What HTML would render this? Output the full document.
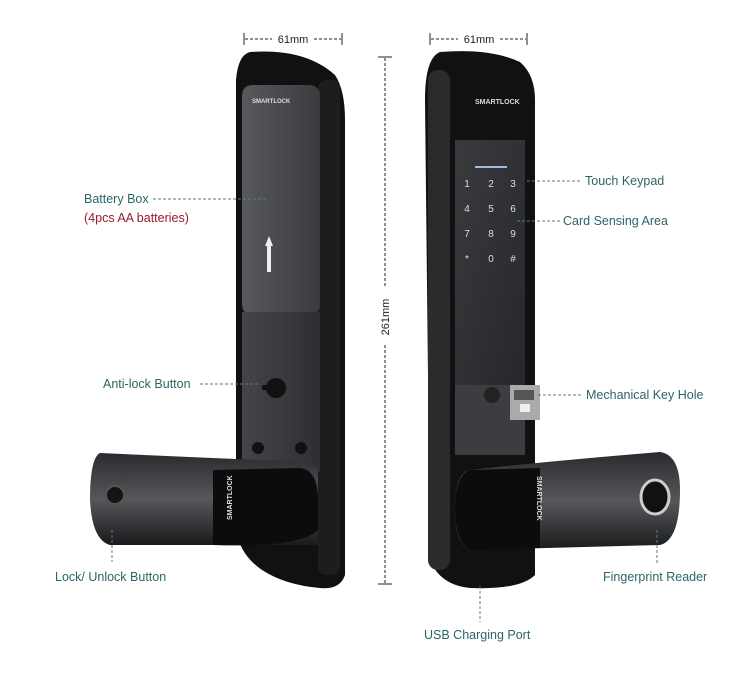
<!DOCTYPE html>
<html><head><meta charset="utf-8"><style>
html,body{margin:0;padding:0;background:#fff;}
svg{display:block}
text{font-family:"Liberation Sans",sans-serif;}
</style></head><body>
<svg width="754" height="698" viewBox="0 0 754 698" xmlns="http://www.w3.org/2000/svg">
<defs>
<linearGradient id="g1" x1="0" x2="1"><stop offset="0" stop-color="#58595c"/><stop offset="1" stop-color="#3a3b3e"/></linearGradient>
<linearGradient id="g2" x1="0" x2="1" y1="0" y2="1"><stop offset="0" stop-color="#3a3b3e"/><stop offset="1" stop-color="#26272a"/></linearGradient>
<linearGradient id="g3" x1="0" x2="1"><stop offset="0" stop-color="#444548"/><stop offset="1" stop-color="#2e2f32"/></linearGradient>
<linearGradient id="h1" x1="0" y1="0" x2="0" y2="1"><stop offset="0" stop-color="#2a2b2e"/><stop offset=".5" stop-color="#55575a"/><stop offset="1" stop-color="#1a1a1c"/></linearGradient>
</defs>
<g stroke="#222" stroke-width="1" fill="none">
<line x1="244" y1="33" x2="244" y2="45"/><line x1="342" y1="33" x2="342" y2="45"/>
<line x1="245" y1="39" x2="272" y2="39" stroke-dasharray="3,2"/><line x1="314" y1="39" x2="341" y2="39" stroke-dasharray="3,2"/>
<line x1="430" y1="33" x2="430" y2="45"/><line x1="527" y1="33" x2="527" y2="45"/>
<line x1="431" y1="39" x2="458" y2="39" stroke-dasharray="3,2"/><line x1="500" y1="39" x2="526" y2="39" stroke-dasharray="3,2"/>
<line x1="378" y1="57" x2="392" y2="57"/><line x1="378" y1="584" x2="392" y2="584"/>
<line x1="385" y1="58" x2="385" y2="288" stroke-dasharray="3,2"/><line x1="385" y1="345" x2="385" y2="583" stroke-dasharray="3,2"/>
</g>
<text x="293" y="43" font-size="11" text-anchor="middle" fill="#222">61mm</text>
<text x="479" y="43" font-size="11" text-anchor="middle" fill="#222">61mm</text>
<text x="389" y="317" font-size="11" text-anchor="middle" fill="#222" transform="rotate(-90 389 317)">261mm</text>

<path d="M250 52 Q305 48 335 75 Q345 90 345 120 L345 575 Q340 590 320 588 Q285 585 262 570 Q240 555 236 530 L236 80 Q238 55 250 52Z" fill="#111"/>
<rect x="318" y="80" width="22" height="495" rx="8" fill="#1c1d1f"/>
<rect x="242" y="85" width="78" height="230" rx="10" fill="url(#g1)"/>
<rect x="242" y="312" width="78" height="160" fill="url(#g3)"/>
<text x="252" y="103" font-size="6" fill="#ddd" font-weight="bold">SMARTLOCK</text>
<path d="M269 236 L273 246 L271 246 L271 272 L267 272 L267 246 L265 246Z" fill="#eee"/>
<circle cx="276" cy="388" r="10" fill="#111"/><rect x="262" y="385" width="24" height="5" fill="#111"/>
<circle cx="258" cy="448" r="6" fill="#111"/><circle cx="301" cy="448" r="6" fill="#111"/>
<path d="M100 453 Q210 458 310 462 L318 470 L318 545 Q210 545 110 545 Q92 540 90 500 Q90 458 100 453Z" fill="url(#h1)"/>
<path d="M213 470 L300 468 Q318 470 318 500 L318 530 Q300 548 213 545Z" fill="#0c0c0d"/>
<circle cx="115" cy="495" r="9" fill="#141414" stroke="#555" stroke-width="2"/>
<text x="232" y="520" font-size="7" fill="#ddd" font-weight="bold" transform="rotate(-90 232 520)">SMARTLOCK</text>

<path d="M440 52 Q490 48 520 62 Q535 75 535 100 L535 575 Q520 590 470 588 Q440 585 430 560 L425 100 Q425 58 440 52Z" fill="#111"/>
<rect x="428" y="70" width="22" height="500" rx="10" fill="#2a2b2d"/>
<rect x="455" y="140" width="70" height="250" fill="url(#g2)"/>
<text x="475" y="104" font-size="7" fill="#ddd" font-weight="bold">SMARTLOCK</text>
<rect x="475" y="166" width="32" height="2" fill="#9be"/>
<g fill="#ddd" font-size="10" text-anchor="middle">
<text x="467" y="187">1</text><text x="491" y="187">2</text><text x="513" y="187">3</text>
<text x="467" y="212">4</text><text x="491" y="212">5</text><text x="513" y="212">6</text>
<text x="467" y="237">7</text><text x="491" y="237">8</text><text x="513" y="237">9</text>
<text x="467" y="262">*</text><text x="491" y="262">0</text><text x="513" y="262">#</text></g>
<rect x="455" y="385" width="70" height="70" fill="#3c3d40"/>
<rect x="510" y="385" width="30" height="35" fill="#aaa"/><rect x="514" y="390" width="20" height="10" fill="#555"/><rect x="520" y="404" width="10" height="8" fill="#eee"/>
<circle cx="492" cy="395" r="8" fill="#222"/>
<path d="M470 470 Q540 462 660 452 Q680 455 680 490 Q680 540 660 545 L470 550 Q455 545 455 510 Q455 472 470 470Z" fill="url(#h1)"/>
<path d="M470 470 L540 468 L540 548 L470 550 Q455 540 455 510 Q455 475 470 470Z" fill="#0c0c0d"/>
<ellipse cx="655" cy="497" rx="14" ry="17" fill="#111" stroke="#ccc" stroke-width="3"/>
<text x="537" y="476" font-size="7" fill="#ddd" font-weight="bold" transform="rotate(90 537 476)">SMARTLOCK</text>

<g stroke="#5a7a88" stroke-width="1" stroke-dasharray="3,2" fill="none">
<line x1="153" y1="199" x2="268" y2="199"/>
<line x1="200" y1="384" x2="258" y2="384"/>
<line x1="112" y1="530" x2="112" y2="562"/>
<line x1="527" y1="181" x2="582" y2="181"/>
<line x1="517" y1="221" x2="560" y2="221"/>
<line x1="538" y1="395" x2="582" y2="395"/>
<line x1="657" y1="530" x2="657" y2="565"/>
<line x1="480" y1="586" x2="480" y2="622"/>
</g>
<g font-size="12.5" fill="#2c6565">
<text x="84" y="203">Battery Box</text>
<text x="84" y="222" fill="#9b1b30">(4pcs AA batteries)</text>
<text x="103" y="388">Anti-lock Button</text>
<text x="55" y="581">Lock/ Unlock Button</text>
<text x="585" y="185">Touch Keypad</text>
<text x="563" y="225">Card Sensing Area</text>
<text x="586" y="399">Mechanical Key Hole</text>
<text x="603" y="581">Fingerprint Reader</text>
<text x="424" y="639">USB  Charging Port</text>
</g>
</svg>
</body></html>
